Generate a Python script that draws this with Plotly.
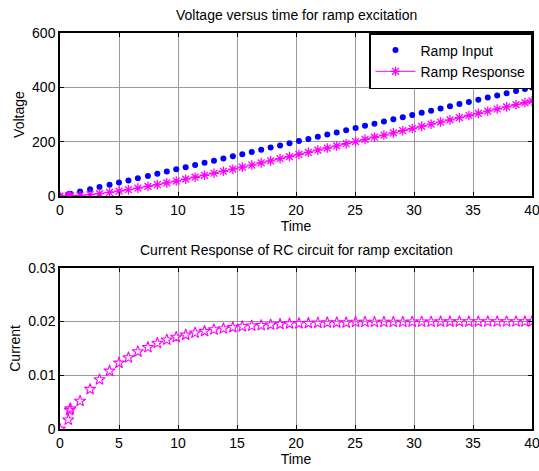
import plotly.graph_objects as go
from plotly.subplots import make_subplots

# ---- data ----
time = [0, 0.7, 0.82, 0.88, 1.7, 2.55, 3.35, 4.2, 5.0, 5.8, 6.6, 7.45, 8.25, 9.05, 9.85,
        10.65, 11.45, 12.25, 13.05, 13.85, 14.65, 15.45, 16.25, 17.05, 17.85, 18.65,
        19.45, 20.25, 21.05, 21.85, 22.65, 23.45, 24.25, 25.05, 25.85, 26.65, 27.45,
        28.25, 29.05, 29.85, 30.65, 31.45, 32.25, 33.05, 33.85, 34.65, 35.45, 36.25,
        37.05, 37.85, 38.65, 39.4, 40]
ramp_input = [0, 7, 8.2, 8.8, 17, 25.5, 33.5, 42, 50, 58, 66, 74.5, 82.5, 90.5, 98.5,
              106.5, 114.5, 122.5, 130.5, 138.5, 146.5, 154.5, 162.5, 170.5, 178.5, 186.5,
              194.5, 202.5, 210.5, 218.5, 226.5, 234.5, 242.5, 250.5, 258.5, 266.5, 274.5,
              282.5, 290.5, 298.5, 306.5, 314.5, 322.5, 330.5, 338.5, 346.5, 354.5, 362.5,
              370.5, 378.5, 386.5, 394, 400]
ramp_response = [0, 0.5, 0.6, 0.7, 2.6, 5.5, 9.1, 13.6, 18.4, 23.7, 29.4, 35.8, 42.1, 48.7,
                 55.5, 62.4, 69.6, 76.8, 84.2, 91.6, 99.2, 106.8, 114.4, 122.2, 129.9, 137.7,
                 145.5, 153.4, 161.2, 169.1, 177.0, 185.0, 192.9, 200.8, 208.8, 216.7, 224.7,
                 232.7, 240.7, 248.6, 256.6, 264.6, 272.6, 280.6, 288.6, 296.6, 304.5, 312.5,
                 320.5, 328.5, 336.5, 344.0, 350.0]
current = [0, 0.0017, 0.0035, 0.0038, 0.0052, 0.0074, 0.0092, 0.0108, 0.0123, 0.0133,
           0.0144, 0.0152, 0.0160, 0.0166, 0.0171, 0.0175, 0.0179, 0.0182, 0.0185, 0.0187,
           0.0189, 0.0191, 0.0192, 0.0193, 0.0194, 0.0195, 0.0196, 0.01965, 0.0197, 0.01975,
           0.0198, 0.0198, 0.0198, 0.0199, 0.0199, 0.0199, 0.0199, 0.0199, 0.0199, 0.01995,
           0.01995, 0.01995, 0.01997, 0.01997, 0.01998, 0.01998, 0.01998, 0.01999, 0.01999,
           0.01999, 0.01999, 0.01999, 0.01999]

x_ticks = [0, 5, 10, 15, 20, 25, 30, 35, 40]
v_ticks = [0, 200, 400, 600]
i_ticks = [0, 0.01, 0.02, 0.03]
i_tick_text = ["0", "0.01", "0.02", "0.03"]

FONT = "Liberation Sans, Arial, sans-serif"
MAG = "#ff00ff"

fig = make_subplots(rows=2, cols=1, vertical_spacing=0.0)

fig.add_trace(go.Scatter(x=time, y=ramp_input, mode="markers", name="Ramp Input",
                         marker=dict(symbol="circle", size=6, color="#0000ff")), row=1, col=1)
fig.add_trace(go.Scatter(x=time, y=ramp_response, mode="lines+markers", name="Ramp Response",
                         line=dict(color=MAG, width=1),
                         marker=dict(symbol="asterisk-open", size=8, color=MAG,
                                     line=dict(color=MAG, width=1.3))), row=1, col=1)
fig.add_trace(go.Scatter(x=time, y=current, mode="markers", name="Current", showlegend=False,
                         marker=dict(symbol="star-open", size=8.5, color=MAG,
                                     line=dict(color=MAG, width=1.1))), row=2, col=1)

axis_common = dict(showline=True, linecolor="black", linewidth=1.5, mirror="ticks",
                   ticks="inside", ticklen=4, tickcolor="black", automargin=False,
                   ticklabeloverflow="allow",
                   showgrid=True, gridcolor="#9a9a9a", gridwidth=1, zeroline=False,
                   tickfont=dict(family=FONT, size=14, color="black"))

fig.update_xaxes(**axis_common, range=[0, 40], tickvals=x_ticks,
                 title=dict(text="Time", font=dict(family=FONT, size=14, color="black"), standoff=3))
fig.update_yaxes(**axis_common)
fig.update_yaxes(range=[0, 600], tickvals=v_ticks, domain=[0.588, 1.0], row=1, col=1,
                 title=dict(text="Voltage", font=dict(family=FONT, size=14, color="black"), standoff=4))
fig.update_yaxes(range=[0, 0.03], tickvals=i_ticks, ticktext=i_tick_text, domain=[0.0, 0.407],
                 row=2, col=1,
                 title=dict(text="Current", font=dict(family=FONT, size=14, color="black"), standoff=4))

fig.add_annotation(text="Voltage versus time for ramp excitation", xref="paper", yref="paper",
                   x=0.5, y=1.0, yshift=18, showarrow=False, xanchor="center", yanchor="middle",
                   font=dict(family=FONT, size=14, color="black"))
fig.add_annotation(text="Current Response of RC circuit for ramp excitation", xref="paper", yref="paper",
                   x=0.5, y=0.407, yshift=18, showarrow=False, xanchor="center", yanchor="middle",
                   font=dict(family=FONT, size=14, color="black"))

fig.update_layout(width=539, height=471, margin=dict(l=60, r=7, t=33, b=42, autoexpand=False),
                  paper_bgcolor="white", plot_bgcolor="white",
                  legend=dict(x=1, y=1, xanchor="right", yanchor="top", bgcolor="white",
                              bordercolor="black", borderwidth=1.5,
                              font=dict(family=FONT, size=14, color="black"),
                              tracegroupgap=0, itemwidth=40))

fig.write_html("out.html")
